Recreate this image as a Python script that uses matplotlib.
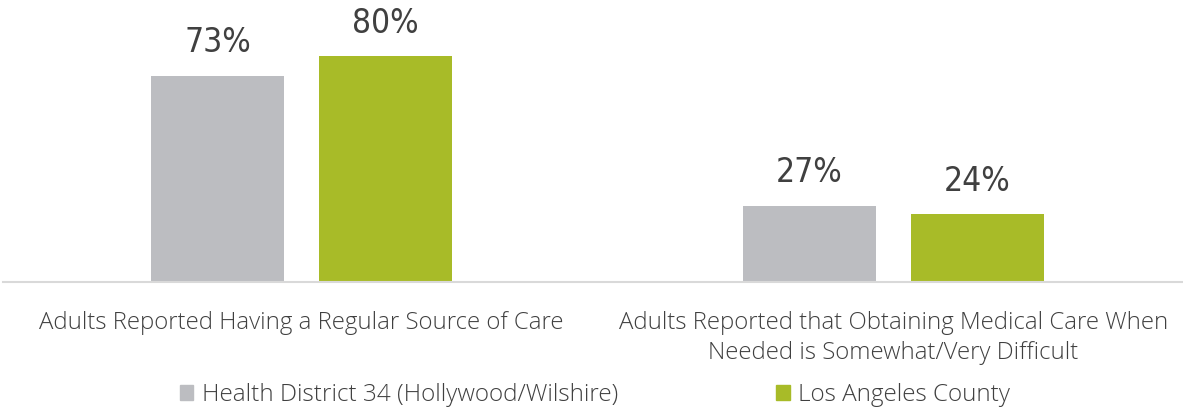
import matplotlib
matplotlib.use('Agg')
import matplotlib.pyplot as plt
from matplotlib.patches import Patch
import numpy as np

# Datos del gráfico
categories = ['Adults Reported Having a Regular Source of Care',
              'Adults Reported that Obtaining Medical Care When\nNeeded is Somewhat/Very Difficult']
series_names = ['Health District 34 (Hollywood/Wilshire)', 'Los Angeles County']
district_vals = [73, 27]
county_vals = [80, 24]

GRAY = '#BCBDC1'
GREEN = '#A8BB28'
TEXT = '#404040'

fig = plt.figure(figsize=(11.83, 4.07), dpi=100)
ax = fig.add_axes([0.0025, 0.307, 0.9975, 0.693])

x = np.arange(len(categories))
width = 0.225
offset = 0.142
b1 = ax.bar(x - offset, district_vals, width, color=GRAY, label=series_names[0])
b2 = ax.bar(x + offset, county_vals, width, color=GREEN, label=series_names[1])

# Etiquetas de valor sobre las barras
for bars, vals in [(b1, district_vals), (b2, county_vals)]:
    for rect, v in zip(bars, vals):
        ax.annotate(f'{v}%', (rect.get_x() + rect.get_width() / 2, v),
                    xytext=(0, 12), textcoords='offset points',
                    ha='center', va='bottom', fontsize=24, color=TEXT,
                    family=['DejaVu Sans'], fontstretch='condensed')

ax.set_xlim(-0.505, 1.49)
ax.set_ylim(0, 100)
ax.set_yticks([])
ax.set_xticks(x)
ax.set_xticklabels(categories, fontsize=17.3, color=TEXT, linespacing=1.3,
                   family=['Open Sans', 'DejaVu Sans'], fontweight='light')
ax.tick_params(axis='x', length=0, pad=21)
for s in ['top', 'right', 'left']:
    ax.spines[s].set_visible(False)
ax.spines['bottom'].set_color('#D9D9D9')
ax.spines['bottom'].set_linewidth(1.5)

# Leyenda
handles = [Patch(color=GRAY), Patch(color=GREEN)]
fig.legend(handles, series_names, loc='center', bbox_to_anchor=(0.503, 0.03),
           ncol=2, frameon=False, handlelength=0.55, handleheight=0.55,
           handletextpad=0.35, columnspacing=6.5,
           prop={'family': ['Open Sans', 'DejaVu Sans'], 'weight': 'light', 'size': 17.5},
           labelcolor=TEXT)

fig.savefig('out.png', dpi=100)
